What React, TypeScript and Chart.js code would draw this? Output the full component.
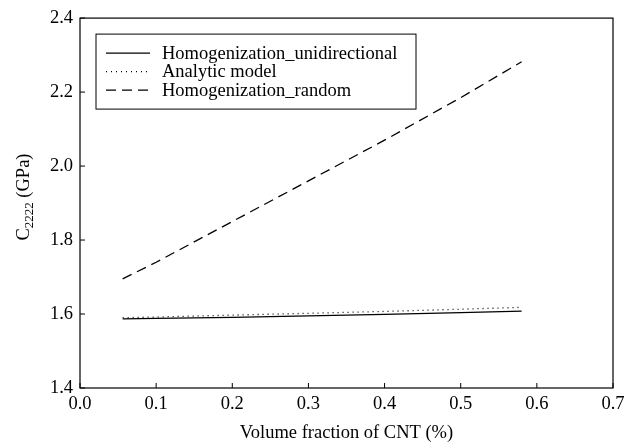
import React, { useEffect, useRef } from "react";
import { Chart, registerables } from "chart.js";

Chart.register(...registerables);

const xValues = [0.056, 0.1, 0.2, 0.3, 0.4, 0.5, 0.58];
const unidirectional = [1.587, 1.588, 1.591, 1.595, 1.599, 1.604, 1.608];
const analytic = [1.59, 1.592, 1.597, 1.602, 1.607, 1.613, 1.618];
const randomSeries = [1.695, 1.74, 1.85, 1.96, 2.07, 2.185, 2.282];
const seriesNames = ["Homogenization_unidirectional", "Analytic model", "Homogenization_random"];
const dashes: number[][] = [[], [1, 4], [10, 6]];

const FONT = "'Liberation Serif', 'Times New Roman', serif";
const FS = 18.5;

const framePlugin = {
  id: "frame",
  afterDraw(chart: any) {
    const { ctx, chartArea: a, scales } = chart;
    ctx.save();
    ctx.strokeStyle = "#000";
    ctx.lineWidth = 1.2;
    ctx.strokeRect(a.left, a.top, a.right - a.left, a.bottom - a.top);
    ctx.lineWidth = 1;
    scales.x.ticks.forEach((t: any) => {
      const px = scales.x.getPixelForValue(t.value);
      ctx.beginPath();
      ctx.moveTo(px, a.bottom);
      ctx.lineTo(px, a.bottom - 5);
      ctx.stroke();
    });
    scales.y.ticks.forEach((t: any) => {
      const py = scales.y.getPixelForValue(t.value);
      ctx.beginPath();
      ctx.moveTo(a.left, py);
      ctx.lineTo(a.left + 5, py);
      ctx.stroke();
    });
    // legend box
    const bx = a.left + 16, by = a.top + 16, bw = 320, bh = 75;
    ctx.lineWidth = 1;
    ctx.fillStyle = "#fff";
    ctx.fillRect(bx, by, bw, bh);
    ctx.strokeRect(bx, by, bw, bh);
    ctx.font = `${FS}px ${FONT}`;
    ctx.textBaseline = "middle";
    ctx.textAlign = "left";
    seriesNames.forEach((name, i) => {
      const cy = by + 19 + i * 18.5;
      ctx.beginPath();
      ctx.setLineDash(dashes[i]);
      ctx.lineWidth = i === 1 ? 1.2 : 1.3;
      ctx.moveTo(bx + 10, cy);
      ctx.lineTo(bx + 54, cy);
      ctx.stroke();
      ctx.setLineDash([]);
      ctx.fillStyle = "#000";
      ctx.fillText(name, bx + 66, cy + 1);
    });
    // y title with subscript
    ctx.save();
    ctx.translate(23, (a.top + a.bottom) / 2 - 6);
    ctx.rotate(-Math.PI / 2);
    const main = "C";
    const sub = "2222";
    const rest = " (GPa)";
    ctx.font = `${FS}px ${FONT}`;
    const wMain = ctx.measureText(main).width;
    const wRest = ctx.measureText(rest).width;
    ctx.font = `13px ${FONT}`;
    const wSub = ctx.measureText(sub).width;
    const total = wMain + wSub + wRest;
    let x = -total / 2;
    ctx.fillStyle = "#000";
    ctx.textBaseline = "alphabetic";
    ctx.font = `${FS}px ${FONT}`;
    ctx.fillText(main, x, 6);
    x += wMain;
    ctx.font = `13px ${FONT}`;
    ctx.fillText(sub, x, 10);
    x += wSub;
    ctx.font = `${FS}px ${FONT}`;
    ctx.fillText(rest, x, 6);
    ctx.restore();
    ctx.restore();
  },
};

export default function App() {
  const ref = useRef<HTMLCanvasElement>(null);
  useEffect(() => {
    document.body.style.margin = "0";
    const c = ref.current!;
    const chart = new Chart(c, {
      type: "line",
      data: {
        datasets: [
          { label: seriesNames[0], data: xValues.map((x, i) => ({ x, y: unidirectional[i] })), borderColor: "#000", borderWidth: 1.3, borderDash: dashes[0] },
          { label: seriesNames[1], data: xValues.map((x, i) => ({ x, y: analytic[i] })), borderColor: "#000", borderWidth: 1.3, borderDash: dashes[1] },
          { label: seriesNames[2], data: xValues.map((x, i) => ({ x, y: randomSeries[i] })), borderColor: "#000", borderWidth: 1.3, borderDash: dashes[2] },
        ],
      },
      options: {
        animation: false,
        responsive: false,
        devicePixelRatio: 1,
        elements: { point: { radius: 0 }, line: { tension: 0 } },
        layout: { padding: { top: 17, right: 21, left: 0, bottom: 0 } },
        plugins: { legend: { display: false }, tooltip: { enabled: false } },
        scales: {
          x: {
            type: "linear",
            min: 0,
            max: 0.7,
            ticks: { stepSize: 0.1, color: "#000", font: { family: FONT, size: FS }, padding: 5, callback: (v: any) => Number(v).toFixed(1), maxRotation: 0 },
            grid: { display: false, drawTicks: false },
            border: { display: false },
            title: { display: true, text: "Volume fraction of CNT (%)", color: "#000", font: { family: FONT, size: FS }, padding: { top: 8, bottom: -2 } },
            afterFit: (s: any) => { s.height = 54; },
          },
          y: {
            type: "linear",
            min: 1.4,
            max: 2.4,
            ticks: { stepSize: 0.2, color: "#000", font: { family: FONT, size: FS }, padding: 7, callback: (v: any) => Number(v).toFixed(1) },
            grid: { display: false, drawTicks: false },
            border: { display: false },
            afterFit: (s: any) => { s.width = 80; },
          },
        },
      },
      plugins: [framePlugin],
    });
    return () => chart.destroy();
  }, []);
  return (
    <div style={{ width: 634, height: 442 }}>
      <canvas ref={ref} width={634} height={442} style={{ display: "block" }} />
    </div>
  );
}
